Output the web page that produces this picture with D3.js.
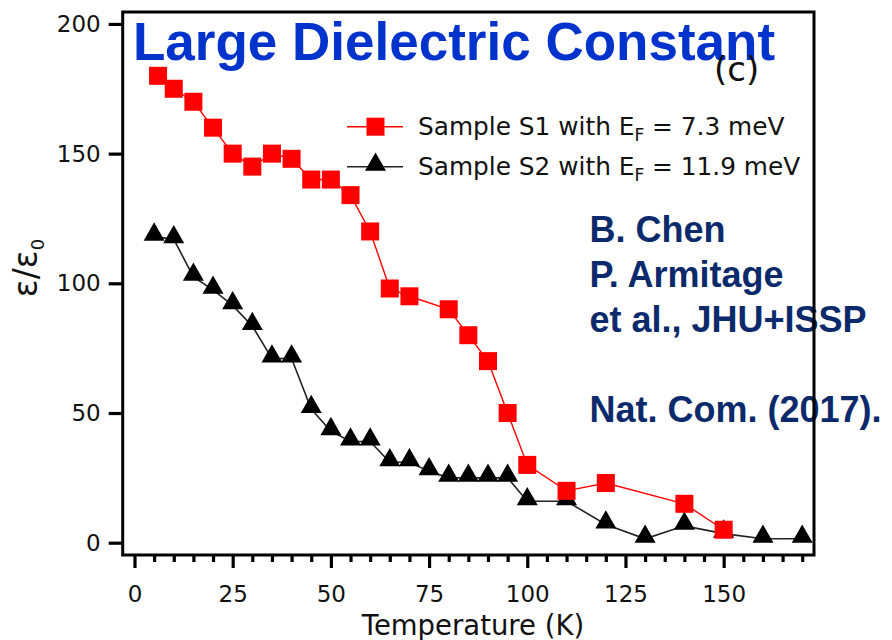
<!DOCTYPE html>
<html>
<head>
<meta charset="utf-8">
<script src="https://cdn.jsdelivr.net/npm/d3@7"></script>
<style>
  html, body { margin: 0; padding: 0; background: #fff; }
  svg { display: block; }
</style>
</head>
<body>
<script>
// Sample S1 (E_F = 7.3 meV): temperature (K) and relative permittivity
const tempS1 = [6, 10, 15, 20, 25, 30, 35, 40, 45, 50, 55, 60, 65, 70, 80, 85, 90, 95, 100, 110, 120, 140, 150];
const epsS1  = [180, 175, 170, 160, 150, 145, 150, 148, 140, 140, 134, 120, 98, 95, 90, 80, 70, 50, 30, 20, 23, 15, 5];

// Sample S2 (E_F = 11.9 meV)
const tempS2 = [5, 10, 15, 20, 25, 30, 35, 40, 45, 50, 55, 60, 65, 70, 75, 80, 85, 90, 95, 100, 110, 120, 130, 140, 150, 160, 170];
const epsS2  = [118, 117, 102.5, 97.5, 91.5, 83.5, 71, 71, 51.5, 43, 39, 39, 31, 31, 27.5, 25, 25, 25, 25, 16, 16, 7, 1.5, 6.5, 3.5, 1.5, 1.5];

const xMajorTicks = [0, 25, 50, 75, 100, 125, 150];
const xMinorTicks = [5, 10, 15, 20, 30, 35, 40, 45, 55, 60, 65, 70, 80, 85, 90, 95, 105, 110, 115, 120, 130, 135, 140, 145, 155, 160, 165, 170];
const yTicks = [0, 50, 100, 150, 200];

const legendLabels = [
  { name: "Sample S1 with E", sub: "F", rest: " = 7.3 meV" },
  { name: "Sample S2 with E", sub: "F", rest: " = 11.9 meV" }
];
const creditLines = ["B. Chen", "P. Armitage", "et al., JHU+ISSP", "", "Nat. Com. (2017)."];

const W = 892, H = 640;
const plot = { left: 122.7, right: 814, top: 12, bottom: 555 };

const svg = d3.select("body").append("svg")
  .attr("width", W).attr("height", H);

const x = d3.scaleLinear().domain([-3, 173]).range([plot.left, plot.right]);
const y = d3.scaleLinear().domain([-4.74, 204.6]).range([plot.bottom, plot.top]);

const RED = "#ff0000";
const BLACK = "#000000";

// Triangle marker: the data point sits in the lower part of the glyph
const triPath = "M0,-14.3 L10.5,4 L-10.5,4 Z";
const SQ = 18;

// Connecting lines
const s1 = tempS1.map((t, i) => ({ t, v: epsS1[i] }));
const s2 = tempS2.map((t, i) => ({ t, v: epsS2[i] }));
const line = d3.line().x(d => x(d.t)).y(d => y(d.v));

svg.append("path").datum(s2)
  .attr("d", line).attr("fill", "none")
  .attr("stroke", "#222").attr("stroke-width", 1.6);

svg.append("path").datum(s1)
  .attr("d", line).attr("fill", "none")
  .attr("stroke", RED).attr("stroke-width", 1.4);

// Markers
svg.append("g").selectAll("path").data(s2).join("path")
  .attr("d", triPath)
  .attr("transform", d => `translate(${x(d.t)},${y(d.v)})`)
  .attr("fill", BLACK);

svg.append("g").selectAll("rect").data(s1).join("rect")
  .attr("x", d => x(d.t) - SQ / 2)
  .attr("y", d => y(d.v) - SQ / 2)
  .attr("width", SQ).attr("height", SQ)
  .attr("fill", RED);

// Legend
const legend = svg.append("g").attr("font-family", "DejaVu Sans, sans-serif");
const rowY = [126.7, 166.7];
legendLabels.forEach((lab, i) => {
  const cy = rowY[i];
  const color = i === 0 ? RED : BLACK;
  legend.append("line")
    .attr("x1", 347).attr("x2", 403).attr("y1", cy).attr("y2", cy)
    .attr("stroke", i === 0 ? RED : "#222").attr("stroke-width", 1.6);
  if (i === 0) {
    legend.append("rect")
      .attr("x", 375.5 - SQ / 2).attr("y", cy - SQ / 2)
      .attr("width", SQ).attr("height", SQ).attr("fill", color);
  } else {
    legend.append("path")
      .attr("d", triPath)
      .attr("transform", `translate(375.5,${cy})`)
      .attr("fill", color);
  }
  const txt = legend.append("text")
    .attr("x", 418).attr("y", cy + 8.5)
    .attr("font-size", 24.8).attr("fill", "#111");
  txt.append("tspan").text(lab.name);
  txt.append("tspan").attr("dy", 6).attr("font-size", 17).text(lab.sub);
  txt.append("tspan").attr("dy", -6).text(lab.rest);
});

// Title and panel tag
svg.append("text")
  .attr("x", 133).attr("y", 60)
  .attr("font-family", "Liberation Sans, Arial, sans-serif")
  .attr("font-weight", "bold").attr("font-size", 53)
  .attr("fill", "#0033cc")
  .text("Large Dielectric Constant");

svg.append("text")
  .attr("x", 714).attr("y", 81)
  .attr("font-family", "DejaVu Sans, sans-serif")
  .attr("font-size", 34).attr("fill", "#111")
  .text("(c)");

// Credits
svg.append("g").selectAll("text").data(creditLines).join("text")
  .attr("x", 589.5)
  .attr("y", (d, i) => 242 + i * 45)
  .attr("font-family", "Liberation Sans, Arial, sans-serif")
  .attr("font-weight", "bold").attr("font-size", 36)
  .attr("fill", "#0b2a6b")
  .text(d => d);

// Frame
svg.append("rect")
  .attr("x", plot.left).attr("y", plot.top)
  .attr("width", plot.right - plot.left).attr("height", plot.bottom - plot.top)
  .attr("fill", "none").attr("stroke", BLACK).attr("stroke-width", 3);

// Axes
const styleAxis = g => {
  g.select(".domain").remove();
  g.selectAll(".tick line").attr("stroke", BLACK).attr("stroke-width", 3.2);
  g.selectAll(".tick text")
    .attr("font-family", "DejaVu Sans, sans-serif")
    .attr("font-size", 23).attr("fill", "#111");
};

svg.append("g")
  .attr("transform", `translate(0,${plot.bottom})`)
  .call(d3.axisBottom(x).tickValues(xMajorTicks).tickSize(13).tickPadding(18).tickFormat(d3.format("d")))
  .call(styleAxis);

svg.append("g")
  .attr("transform", `translate(0,${plot.bottom})`)
  .call(d3.axisBottom(x).tickValues(xMinorTicks).tickSize(7).tickFormat(""))
  .call(styleAxis);

svg.append("g")
  .attr("transform", `translate(${plot.left},0)`)
  .call(d3.axisLeft(y).tickValues(yTicks).tickSize(14).tickPadding(8).tickFormat(d3.format("d")))
  .call(styleAxis);

// Axis titles
svg.append("text")
  .attr("x", 473).attr("y", 635)
  .attr("text-anchor", "middle")
  .attr("font-family", "DejaVu Sans, sans-serif")
  .attr("font-size", 27.5).attr("fill", "#111")
  .text("Temperature (K)");

const yTitle = svg.append("text")
  .attr("transform", "translate(37,268) rotate(-90)")
  .attr("text-anchor", "middle")
  .attr("font-family", "DejaVu Sans, sans-serif")
  .attr("font-size", 33).attr("fill", "#111");
yTitle.append("tspan").text("ε/ε");
yTitle.append("tspan").attr("dy", 7).attr("font-size", 18).text("0");
</script>
</body>
</html>
